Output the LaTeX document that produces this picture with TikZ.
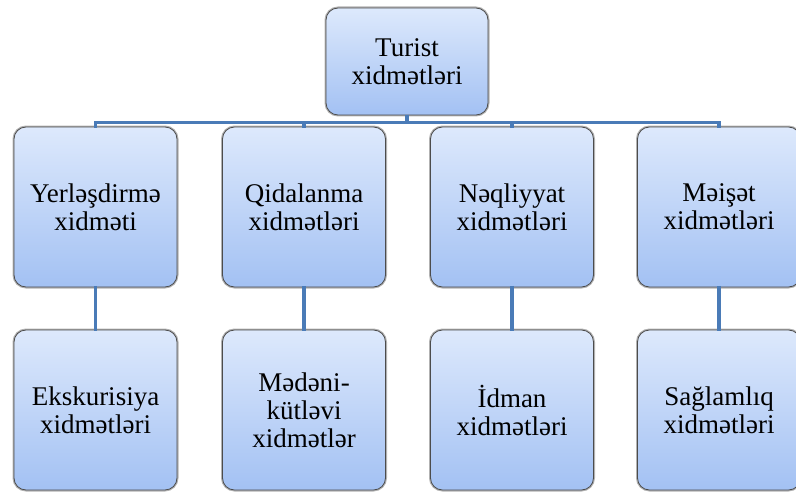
\documentclass[tikz,border=0pt]{standalone}
\usepackage{fontspec}
\setmainfont{Liberation Serif}[Ligatures=TeX]
\usepackage{tikz}

\definecolor{boxtop}{HTML}{DDE9FC}
\definecolor{boxbottom}{HTML}{A3C1F3}
\definecolor{linkblue}{HTML}{4A7BB7}

\begin{document}
\begin{tikzpicture}[x=1pt, y=-1pt,
  service/.style={draw=black!70, line width=0.8pt, rounded corners=12pt,
    top color=boxtop, bottom color=boxbottom,
    preaction={draw=black!30, line width=3pt},
    minimum width=163pt, minimum height=160pt, align=center,
    font=\rmfamily\fontsize{27}{28}\selectfont},
  link/.style={linkblue, line width=3.5pt}]

\useasboundingbox (0,0) rectangle (796,495);

% the top box
\node [service, minimum width=162pt, minimum height=107pt] (turist) at (407, 61.5) {Turist\\xidmətləri};

% the middle row
\node [service] (yer) at (95.5, 207) {Yerləşdirmə\\xidməti};
\node [service] (qida) at (304, 207) {Qidalanma\\xidmətləri};
\node [service] (neql) at (512, 207) {Nəqliyyat\\xidmətləri};
\node [service] (meis) at (719, 207) {Məişət\\xidmətləri};

% the bottom row
\node [service] (eks) at (95.5, 410) {Ekskurisiya\\xidmətləri};
\node [service] (mede) at (304, 410) {Mədəni-\\kütləvi\\xidmətlər};
\node [service] (idm) at (512, 410) {İdman\\xidmətləri};
\node [service] (sag) at (719, 410) {Sağlamlıq\\xidmətləri};

% the connectors
\draw [link] (turist.south) -- ++(0,7) -| ([yshift=-1.5pt]yer.north);
\draw [link] (turist.south) -- ++(0,7) -| ([yshift=-1.5pt]qida.north);
\draw [link] (turist.south) -- ++(0,7) -| ([yshift=-1.5pt]neql.north);
\draw [link] (turist.south) -- ++(0,7) -| ([yshift=-1.5pt]meis.north);
\draw [link] ([yshift=1.5pt]yer.south) -- ([yshift=-1.5pt]eks.north);
\draw [link] ([yshift=1.5pt]qida.south) -- ([yshift=-1.5pt]mede.north);
\draw [link] ([yshift=1.5pt]neql.south) -- ([yshift=-1.5pt]idm.north);
\draw [link] ([yshift=1.5pt]meis.south) -- ([yshift=-1.5pt]sag.north);

\end{tikzpicture}
\end{document}
